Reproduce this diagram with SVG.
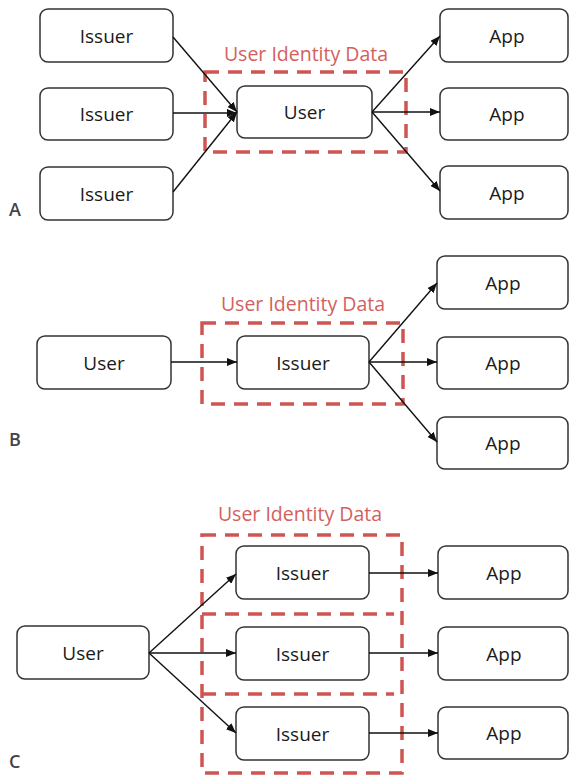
<svg xmlns="http://www.w3.org/2000/svg" width="570" height="776" viewBox="0 0 570 776">
  <style>
    .box { fill: #ffffff; stroke: #333333; stroke-width: 1.5; }
    .lbl { font-family: "Open Sans", "Liberation Sans", sans-serif; font-size: 19px; fill: #1a1a1a; text-anchor: middle; dominant-baseline: central; }
    .zone { fill: none; stroke: #cf5552; stroke-width: 3.5; stroke-dasharray: 14 9; }
    .zone-title { font-family: "Open Sans", "Liberation Sans", sans-serif; font-size: 19.5px; fill: #d4605e; text-anchor: middle; }
    .sect { font-family: "Open Sans", "Liberation Sans", sans-serif; font-size: 18px; font-weight: 600; fill: #444444; }
    .edge { stroke: #111111; stroke-width: 1.4; fill: none; marker-end: url(#arrow); }
  </style>
  <defs>
    <marker id="arrow" viewBox="0 0 10 8" refX="10" refY="4" markerWidth="10" markerHeight="8" markerUnits="userSpaceOnUse" orient="auto">
      <path d="M0,0 L10,4 L0,8 z" fill="#111111"/>
    </marker>
  </defs>

  <rect width="570" height="776" fill="#ffffff"/>

  <!-- Section A: issuers feed the user, user feeds apps -->
  <g id="zoneA">
    <rect class="zone" x="205" y="72" width="201" height="80"/>
    <text class="zone-title" x="306" y="61">User Identity Data</text>
  </g>
  <g id="a-issuer1"><rect class="box" x="40" y="9" width="133" height="53" rx="8"/><text class="lbl" x="106.5" y="35.5">Issuer</text></g>
  <g id="a-issuer2"><rect class="box" x="40" y="88" width="133" height="52" rx="8"/><text class="lbl" x="106.5" y="114">Issuer</text></g>
  <g id="a-issuer3"><rect class="box" x="40" y="167" width="133" height="53" rx="8"/><text class="lbl" x="106.5" y="193.5">Issuer</text></g>
  <g id="a-user"><rect class="box" x="237" y="86" width="135" height="52" rx="8"/><text class="lbl" x="304.5" y="112">User</text></g>
  <g id="a-app1"><rect class="box" x="440" y="9" width="128" height="53" rx="8"/><text class="lbl" x="507" y="35.5">App</text></g>
  <g id="a-app2"><rect class="box" x="440" y="88" width="128" height="52" rx="8"/><text class="lbl" x="507" y="114">App</text></g>
  <g id="a-app3"><rect class="box" x="440" y="166" width="128" height="53" rx="8"/><text class="lbl" x="507" y="192.5">App</text></g>
  <text class="sect" x="9" y="216">A</text>

  <!-- Section B: user feeds issuer, issuer feeds apps -->
  <g id="zoneB">
    <rect class="zone" x="202" y="323" width="201" height="81"/>
    <text class="zone-title" x="303" y="311">User Identity Data</text>
  </g>
  <g id="b-user"><rect class="box" x="37" y="336" width="134" height="53" rx="8"/><text class="lbl" x="104" y="362.5">User</text></g>
  <g id="b-issuer"><rect class="box" x="237" y="336" width="132" height="53" rx="8"/><text class="lbl" x="303" y="362.5">Issuer</text></g>
  <g id="b-app1"><rect class="box" x="437" y="256" width="131" height="53" rx="8"/><text class="lbl" x="503" y="282.5">App</text></g>
  <g id="b-app2"><rect class="box" x="437" y="337" width="131" height="52" rx="8"/><text class="lbl" x="503" y="363">App</text></g>
  <g id="b-app3"><rect class="box" x="437" y="417" width="131" height="52" rx="8"/><text class="lbl" x="503" y="443">App</text></g>
  <text class="sect" x="9" y="446">B</text>

  <!-- Section C: user feeds several issuers, each issuer feeds one app -->
  <g id="zoneC">
    <rect class="zone" x="202" y="535" width="200" height="238"/>
    <line class="zone" x1="202" y1="614" x2="394" y2="614"/>
    <line class="zone" x1="202" y1="694" x2="394" y2="694"/>
    <text class="zone-title" x="300" y="521">User Identity Data</text>
  </g>
  <g id="c-user"><rect class="box" x="17" y="626" width="132" height="53" rx="8"/><text class="lbl" x="83" y="652.5">User</text></g>
  <g id="c-issuer1"><rect class="box" x="236" y="546" width="133" height="53" rx="8"/><text class="lbl" x="302.5" y="572.5">Issuer</text></g>
  <g id="c-issuer2"><rect class="box" x="236" y="627" width="133" height="53" rx="8"/><text class="lbl" x="302.5" y="653.5">Issuer</text></g>
  <g id="c-issuer3"><rect class="box" x="236" y="707" width="133" height="53" rx="8"/><text class="lbl" x="302.5" y="733.5">Issuer</text></g>
  <g id="c-app1"><rect class="box" x="438" y="546" width="130" height="53" rx="8"/><text class="lbl" x="504" y="572.5">App</text></g>
  <g id="c-app2"><rect class="box" x="438" y="627" width="130" height="53" rx="8"/><text class="lbl" x="504" y="653.5">App</text></g>
  <g id="c-app3"><rect class="box" x="438" y="707" width="130" height="52" rx="8"/><text class="lbl" x="504" y="733">App</text></g>
  <text class="sect" x="9" y="768">C</text>

  <g id="connectors">
    <!-- A -->
    <line class="edge" x1="173" y1="37" x2="237" y2="112"/>
    <line class="edge" x1="173" y1="113" x2="237" y2="113"/>
    <line class="edge" x1="173" y1="192" x2="237" y2="112"/>
    <line class="edge" x1="372" y1="112" x2="440" y2="36"/>
    <line class="edge" x1="372" y1="112" x2="440" y2="112"/>
    <line class="edge" x1="372" y1="112" x2="440" y2="191"/>
    <!-- B -->
    <line class="edge" x1="171" y1="362" x2="237" y2="362"/>
    <line class="edge" x1="369" y1="362" x2="437" y2="283"/>
    <line class="edge" x1="369" y1="362" x2="437" y2="362"/>
    <line class="edge" x1="369" y1="362" x2="437" y2="442"/>
    <!-- C -->
    <line class="edge" x1="149" y1="653" x2="236" y2="574"/>
    <line class="edge" x1="149" y1="653" x2="236" y2="653"/>
    <line class="edge" x1="149" y1="653" x2="236" y2="733"/>
    <line class="edge" x1="369" y1="573" x2="438" y2="573"/>
    <line class="edge" x1="369" y1="653" x2="438" y2="653"/>
    <line class="edge" x1="369" y1="733" x2="438" y2="733"/>
  </g>
</svg>
